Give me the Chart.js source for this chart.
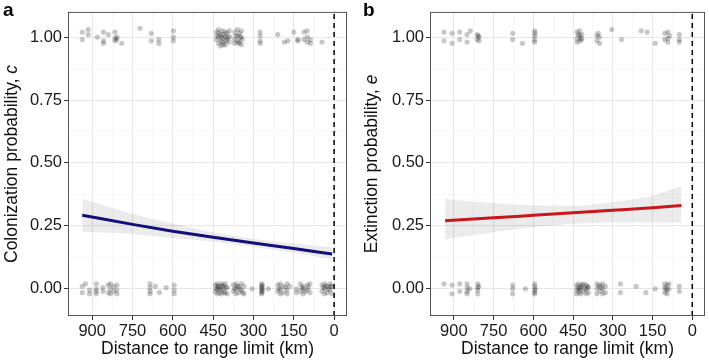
<!DOCTYPE html>
<html>
<head>
<meta charset="utf-8">
<script src="https://cdn.jsdelivr.net/npm/chart.js@4.4.1/dist/chart.umd.min.js"></script>
<style>
  body { margin: 0; background: #fff; }
  .panel { position: absolute; top: 0; }
</style>
</head>
<body>
<div class="panel" style="left:0"><canvas id="colChart" width="358" height="361"></canvas></div>
<div class="panel" style="left:358px"><canvas id="extChart" width="351" height="361"></canvas></div>
<script>
// x ticks (km), labelled every 150
const kmTicks = [0, 150, 300, 450, 600, 750, 900];
const probTicks = [0, 0.25, 0.5, 0.75, 1];

// colonization: jittered observations [km, y]
const colPresent = [
  [937, 0.99], [937, 1.02], [915, 1.03], [915, 1.01], [881, 1.0],
  [858, 1.02], [858, 0.985], [858, 0.975], [840, 1.01],
  [815, 1.02], [815, 0.995], [815, 0.985], [808, 0.99], [808, 1.0], [790, 0.975],
  [722, 1.035], [680, 1.015], [680, 0.985], [652, 0.99], [652, 0.975],
  [598, 1.025], [598, 1.0], [598, 0.985],
  [438, 1.02], [438, 0.99], [436, 1.005], [430, 1.03], [430, 1.0], [430, 0.975], [428, 1.015],
  [422, 1.01], [422, 0.985], [422, 0.965], [420, 1.0], [415, 1.025], [415, 0.995], [415, 0.98],
  [412, 0.97], [410, 1.01], [405, 1.02], [405, 1.0], [405, 0.97], [403, 0.985],
  [398, 1.015], [398, 0.99], [396, 1.0], [390, 1.025], [390, 0.98], [388, 1.0],
  [370, 1.02], [370, 0.99], [370, 0.975], [366, 1.005], [360, 1.03], [360, 1.005], [360, 0.985],
  [356, 0.975], [352, 1.015], [352, 0.98], [350, 1.0], [345, 1.025], [345, 1.0], [345, 0.97],
  [342, 0.99],
  [275, 1.02], [275, 1.005], [275, 0.985], [275, 0.975],
  [210, 1.01], [185, 0.98], [172, 0.985], [150, 1.02], [135, 0.99], [135, 0.985],
  [112, 1.02], [112, 0.99], [100, 1.025], [100, 1.0], [100, 0.98],
  [88, 0.99], [88, 0.975], [45, 0.98]
];
const colAbsent = [
  [937, 0.01], [937, -0.015], [925, 0.02], [910, -0.005], [910, -0.02],
  [885, 0.02], [885, 0.0], [885, -0.01], [885, -0.02], [860, 0.005], [860, -0.01],
  [840, 0.015], [840, -0.015], [832, 0.02], [832, 0.0], [832, -0.02],
  [820, 0.01], [820, -0.01], [808, 0.015], [808, -0.005], [808, -0.02],
  [685, 0.02], [685, 0.005], [685, -0.01], [685, -0.02], [665, 0.01], [650, -0.015], [625, 0.005],
  [595, 0.015], [595, -0.005], [595, -0.02],
  [442, 0.015], [442, -0.01], [438, 0.0], [435, 0.02], [435, 0.0], [435, -0.02], [432, 0.01],
  [428, 0.01], [428, -0.015], [425, 0.0], [420, 0.02], [420, -0.005], [420, -0.02], [417, 0.01],
  [412, 0.015], [412, 0.0], [410, -0.015], [405, 0.02], [405, -0.015], [402, 0.005],
  [398, 0.005], [398, -0.02],
  [375, 0.015], [375, -0.01], [370, 0.0], [365, 0.02], [365, 0.0], [365, -0.02], [360, 0.01],
  [355, 0.01], [355, -0.015], [350, 0.0], [345, 0.02], [345, -0.005], [340, -0.015],
  [335, 0.01], [335, -0.02], [305, 0.0],
  [270, 0.02], [270, 0.01], [270, 0.0], [270, -0.01], [270, -0.02], [268, 0.005], [268, -0.015],
  [266, 0.015], [266, -0.005],
  [245, 0.0], [210, 0.015], [210, -0.01], [205, 0.0], [200, 0.02], [200, 0.0], [200, -0.02],
  [190, 0.01], [190, -0.015], [180, 0.005], [175, 0.02], [175, -0.005], [175, -0.02], [165, 0.01],
  [140, 0.0], [140, -0.015], [125, 0.02], [125, -0.01], [120, 0.005], [115, 0.01], [115, -0.02],
  [115, 0.0], [108, -0.01], [100, 0.015], [100, -0.005], [95, 0.005], [90, 0.02], [90, -0.015],
  [45, 0.015], [45, -0.01], [40, 0.005], [35, 0.02], [35, 0.0], [35, -0.02], [30, 0.01],
  [25, 0.01], [25, -0.015], [20, 0.0], [15, 0.02], [15, -0.005], [12, 0.01], [8, 0.01], [8, -0.02]
];

// colonization fit with confidence band
const colFitKm = [937, 750, 600, 450, 300, 150, 7];
const colFit = [0.292, 0.256, 0.229, 0.205, 0.182, 0.16, 0.138];
const colLow = [0.227, 0.218, 0.202, 0.187, 0.167, 0.143, 0.117];
const colHigh = [0.358, 0.298, 0.259, 0.225, 0.199, 0.18, 0.165];

// extinction: jittered observations [km, y]
const extPresent = [
  [937, 1.02], [937, 0.985], [907, 1.015], [907, 0.975], [878, 1.02], [878, 0.99],
  [850, 1.01], [850, 0.98], [838, 1.025], [812, 1.01], [812, 0.99], [805, 1.0], [805, 0.985],
  [808, 1.005],
  [678, 1.015], [678, 0.99], [641, 0.975],
  [595, 1.025], [595, 1.005], [595, 0.99], [595, 0.98], [593, 1.015],
  [435, 1.02], [435, 0.995], [435, 0.98], [430, 1.01], [425, 1.025], [425, 1.005], [425, 0.985],
  [420, 0.995], [417, 1.01], [417, 0.99], [360, 1.005], [360, 0.985], [355, 1.015],
  [350, 1.0], [350, 0.975],
  [304, 1.03], [267, 0.99], [193, 1.025], [170, 1.02], [140, 0.975],
  [104, 1.015], [104, 0.99], [92, 1.02], [92, 0.995], [92, 0.98], [86, 1.005],
  [49, 1.01], [49, 0.99], [49, 0.98]
];
const extAbsent = [
  [937, 0.02], [907, 0.015], [907, -0.02], [878, 0.02], [878, -0.01],
  [850, 0.02], [850, 0.005], [850, -0.01], [850, -0.02], [840, 0.0],
  [810, 0.02], [810, 0.005], [810, -0.005], [810, -0.02], [806, 0.01],
  [678, 0.015], [678, 0.0], [678, -0.02], [630, 0.0],
  [595, 0.02], [595, 0.01], [595, -0.005], [595, -0.015], [595, -0.02], [592, 0.0],
  [437, 0.015], [437, -0.005], [437, -0.02], [432, 0.005], [428, 0.02], [428, 0.0], [428, -0.015],
  [424, -0.005], [420, 0.01], [420, -0.02], [420, 0.005], [415, 0.015], [410, 0.02], [410, -0.01],
  [405, 0.0], [400, 0.015], [400, 0.0], [400, -0.02], [395, 0.01], [392, 0.005], [392, -0.015],
  [360, 0.02], [360, 0.0], [360, -0.02], [354, 0.01], [348, 0.015], [348, -0.01],
  [343, 0.005], [338, 0.02], [338, 0.0], [338, -0.02], [328, 0.01], [328, -0.015],
  [271, 0.02], [271, -0.015], [212, 0.01], [175, -0.015], [140, 0.0],
  [104, 0.02], [104, 0.005], [104, -0.015], [100, 0.0], [95, 0.015], [95, -0.005], [95, -0.02],
  [88, 0.02], [88, 0.0], [49, 0.01], [49, -0.01]
];

// extinction fit with confidence band
const extFitKm = [933, 750, 600, 450, 300, 150, 41];
const extFit = [0.27, 0.282, 0.292, 0.302, 0.312, 0.322, 0.331];
const extLow = [0.196, 0.225, 0.245, 0.258, 0.263, 0.264, 0.262];
const extHigh = [0.358, 0.34, 0.332, 0.33, 0.345, 0.37, 0.408];

const X_MIN = -48, X_MAX = 990;
const Y_MIN = -0.108, Y_MAX = 1.1;
const FONT = '"Liberation Sans", Arial, Helvetica, sans-serif';

const toXY = (km, ys) => km.map((k, i) => ({ x: k, y: ys[i] }));

const isMajor = (v, step) => Math.abs(v / step - Math.round(v / step)) < 1e-6;

function makePanel(id, cfg) {
  const framePlugin = {
    id: 'frame',
    afterDraw(chart) {
      const { ctx, chartArea: a } = chart;
      ctx.save();
      ctx.strokeStyle = '#555';
      ctx.lineWidth = 1;
      ctx.strokeRect(a.left + 0.5, a.top + 0.5, a.right - a.left - 1, a.bottom - a.top - 1);

      // y title with italic symbol
      ctx.translate(cfg.titleX, (a.top + a.bottom) / 2);
      ctx.rotate(-Math.PI / 2);
      ctx.fillStyle = '#111';
      ctx.textBaseline = 'middle';
      ctx.font = '17.5px ' + FONT;
      const w1 = ctx.measureText(cfg.yTitle).width;
      ctx.font = 'italic 17.5px ' + FONT;
      const w2 = ctx.measureText(cfg.ySymbol).width;
      let x0 = -(w1 + w2) / 2;
      ctx.font = '17.5px ' + FONT;
      ctx.fillText(cfg.yTitle, x0, 0);
      ctx.font = 'italic 17.5px ' + FONT;
      ctx.fillText(cfg.ySymbol, x0 + w1, 0);
      ctx.restore();

      ctx.save();
      ctx.fillStyle = '#000';
      ctx.font = 'bold 19px ' + FONT;
      ctx.textBaseline = 'top';
      ctx.fillText(cfg.letter, cfg.letterX, 1);
      ctx.restore();
    }
  };

  return new Chart(document.getElementById(id).getContext('2d'), {
    type: 'scatter',
    data: {
      datasets: [
        {
          data: [{ x: 0, y: Y_MIN }, { x: 0, y: Y_MAX }],
          showLine: true,
          borderColor: '#000',
          borderWidth: 1.5,
          borderDash: [5, 4],
          pointRadius: 0
        },
        {
          data: toXY(cfg.fitKm, cfg.fit),
          showLine: true,
          borderColor: cfg.lineColor,
          borderWidth: 3,
          cubicInterpolationMode: 'monotone',
          pointRadius: 0
        },
        {
          data: cfg.present.concat(cfg.absent).map(p => ({ x: p[0], y: p[1] })),
          backgroundColor: 'rgba(0,0,0,0.22)',
          borderWidth: 0,
          pointRadius: 2.6
        },
        {
          data: toXY(cfg.fitKm, cfg.high),
          showLine: true,
          borderWidth: 0,
          borderColor: 'rgba(0,0,0,0)',
          backgroundColor: 'rgba(0,0,0,0.08)',
          fill: '+1',
          cubicInterpolationMode: 'monotone',
          pointRadius: 0
        },
        {
          data: toXY(cfg.fitKm, cfg.low),
          showLine: true,
          borderWidth: 0,
          borderColor: 'rgba(0,0,0,0)',
          cubicInterpolationMode: 'monotone',
          pointRadius: 0
        }
      ]
    },
    options: {
      responsive: false,
      animation: false,
      layout: { padding: { top: 2, right: cfg.padRight, left: 0, bottom: 0 } },
      plugins: { legend: { display: false }, tooltip: { enabled: false } },
      scales: {
        x: {
          type: 'linear',
          reverse: true,
          min: X_MIN,
          max: X_MAX,
          afterBuildTicks: s => {
            s.ticks = [0, 75, 150, 225, 300, 375, 450, 525, 600, 675, 750, 825, 900].map(v => ({ value: v }));
          },
          afterFit: s => { s.height = 45; },
          border: { display: false },
          grid: {
            color: c => isMajor(c.tick.value, 150) ? '#e6e6e6' : '#f2f2f2',
            lineWidth: c => isMajor(c.tick.value, 150) ? 1 : 0.6,
            tickLength: 4,
            tickColor: c => isMajor(c.tick.value, 150) ? '#333' : 'rgba(0,0,0,0)'
          },
          ticks: {
            autoSkip: false,
            maxRotation: 0,
            padding: 2,
            color: '#1a1a1a',
            font: { family: FONT, size: 16.5 },
            callback: v => kmTicks.includes(v) ? String(v) : ''
          },
          title: {
            display: true,
            text: 'Distance to range limit (km)',
            color: '#111',
            font: { family: FONT, size: 17.5 },
            padding: { top: 0, bottom: 1 }
          }
        },
        y: {
          type: 'linear',
          min: Y_MIN,
          max: Y_MAX,
          afterBuildTicks: s => {
            s.ticks = [0, 0.125, 0.25, 0.375, 0.5, 0.625, 0.75, 0.875, 1].map(v => ({ value: v }));
          },
          afterFit: s => { s.width = cfg.yWidth; },
          border: { display: false },
          grid: {
            color: c => isMajor(c.tick.value, 0.25) ? '#e6e6e6' : '#f2f2f2',
            lineWidth: c => isMajor(c.tick.value, 0.25) ? 1 : 0.6,
            tickLength: 4,
            tickColor: c => isMajor(c.tick.value, 0.25) ? '#333' : 'rgba(0,0,0,0)'
          },
          ticks: {
            autoSkip: false,
            padding: 2,
            color: '#1a1a1a',
            font: { family: FONT, size: 16.5 },
            callback: v => probTicks.some(t => Math.abs(t - v) < 1e-6) ? v.toFixed(2) : ''
          }
        }
      }
    },
    plugins: [framePlugin]
  });
}

makePanel('colChart', {
  present: colPresent, absent: colAbsent,
  fitKm: colFitKm, fit: colFit, low: colLow, high: colHigh,
  lineColor: '#101078',
  yTitle: 'Colonization probability, ', ySymbol: 'c',
  titleX: 12, letter: 'a', letterX: 3,
  yWidth: 68, padRight: 11
});

makePanel('extChart', {
  present: extPresent, absent: extAbsent,
  fitKm: extFitKm, fit: extFit, low: extLow, high: extHigh,
  lineColor: '#c8161d',
  yTitle: 'Extinction probability, ', ySymbol: 'e',
  titleX: 14, letter: 'b', letterX: 5,
  yWidth: 72, padRight: 2
});
</script>
</body>
</html>
